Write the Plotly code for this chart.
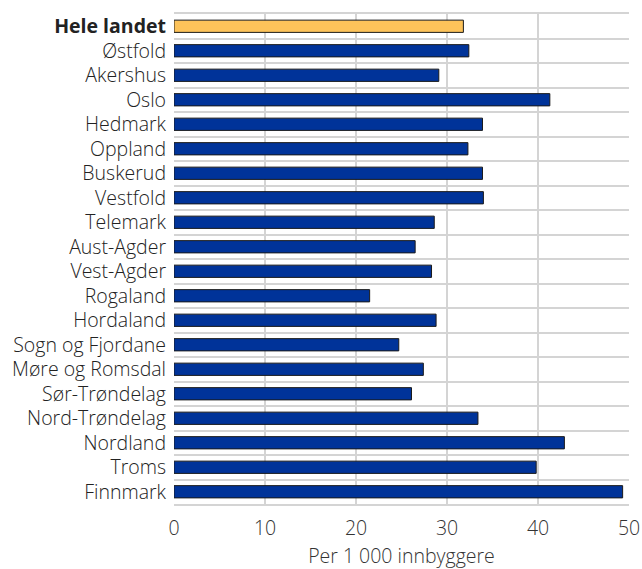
import plotly.graph_objects as go

categories = ["Hele landet", "Østfold", "Akershus", "Oslo", "Hedmark", "Oppland", "Buskerud",
              "Vestfold", "Telemark", "Aust-Agder", "Vest-Agder", "Rogaland", "Hordaland",
              "Sogn og Fjordane", "Møre og Romsdal", "Sør-Trøndelag", "Nord-Trøndelag",
              "Nordland", "Troms", "Finnmark"]
values = [31.8, 32.4, 29.1, 41.3, 33.9, 32.3, 33.9, 34.0, 28.6, 26.5, 28.3, 21.5, 28.8,
          24.7, 27.4, 26.1, 33.4, 42.9, 39.8, 49.3]
x_ticks = [0, 10, 20, 30, 40, 50]
x_title = "Per 1 000 innbyggere"

colors = ["#fdc35a" if c == "Hele landet" else "#003399" for c in categories]
ticktext = ["<b>" + c + "</b>" if c == "Hele landet" else c for c in categories]

FONT = "Open Sans, Noto Sans, sans-serif"
FS = 19.5

fig = go.Figure(go.Bar(
    x=values, y=categories, orientation="h",
    marker=dict(color=colors, line=dict(color="#1a1a1a", width=1)),
    width=0.5,
))

fig.update_layout(
    width=642, height=569,
    margin=dict(l=174, r=13, t=14, b=65),
    paper_bgcolor="white", plot_bgcolor="white",
    font=dict(family=FONT, size=FS, color="#333333", weight=300),
    showlegend=False,
    xaxis=dict(range=[0, 50], tickvals=x_ticks, showgrid=True, gridcolor="#d4d4d4", gridwidth=2,
               zeroline=False, showline=True, linecolor="#d4d4d4", linewidth=2, mirror=True,
               ticks="", tickfont=dict(family=FONT, size=FS, color="#333333", weight=300),
               ticklabelstandoff=6,
               title=dict(text=x_title, font=dict(family=FONT, size=FS, color="#333333", weight=300),
                          standoff=15),
               automargin=False, fixedrange=True),
    yaxis=dict(categoryorder="array", categoryarray=categories, autorange="reversed",
               tickvals=categories, ticktext=ticktext,
               tickson="boundaries", showgrid=True, gridcolor="#d4d4d4", gridwidth=2,
               ticks="", tickfont=dict(family=FONT, size=FS, color="#222222", weight=300),
               ticklabelstandoff=7, automargin=False,
               showline=False, fixedrange=True),
)

fig.write_html(
    "out.html",
    config={"displayModeBar": False},
    post_script="document.body.style.margin='0';document.body.style.overflow='hidden';",
)
